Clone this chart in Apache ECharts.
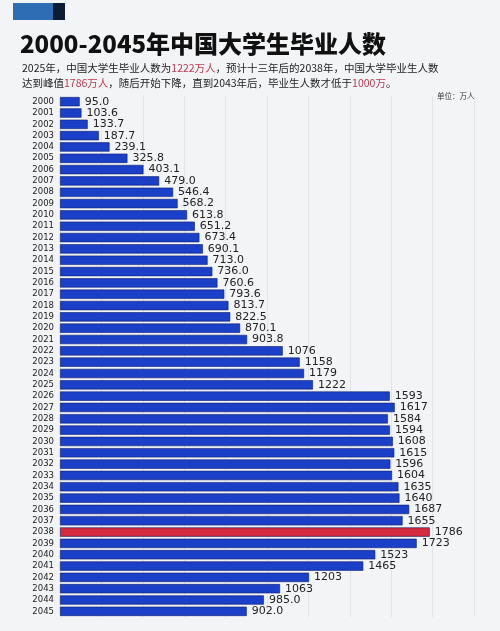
<!DOCTYPE html><html><head><meta charset="utf-8"><script src="https://cdn.jsdelivr.net/npm/echarts@6/dist/echarts.min.js"></script>
<style>body{margin:0;background:#f3f4f6;font-family:"Noto Sans CJK SC",sans-serif}#c{width:500px;height:631px}</style></head><body><div id="c"></div><script>
const years=[];for(let y=2000;y<=2045;y++)years.push(String(y));
const values=[95.0,103.6,133.7,187.7,239.1,325.8,403.1,479.0,546.4,568.2,613.8,651.2,673.4,690.1,713.0,736.0,760.6,793.6,813.7,822.5,870.1,903.8,1076,1158,1179,1222,1593,1617,1584,1594,1608,1615,1596,1604,1635,1640,1687,1655,1786,1723,1523,1465,1203,1063,985,902];
const labels=values.map(v=>v<1000?v.toFixed(1):String(v));
const chart=echarts.init(document.getElementById('c'));
chart.setOption({
 backgroundColor:'#f3f4f6',
 graphic:[
  {type:'rect',shape:{x:13,y:3,width:40,height:17},style:{fill:'#2e6db4'}},
  {type:'rect',shape:{x:53,y:3,width:12,height:17},style:{fill:'#0d1b33'}},
  {type:'text',left:20,top:32,style:{text:'2000-2045年中国大学生毕业人数',font:'900 24px "Noto Sans CJK SC"',fill:'#111'}},
  {type:'text',left:22,top:61,style:{rich:{n:{fill:'#222',font:'10.5px "Noto Sans CJK SC"'},r:{fill:'#c23a4e',font:'10.5px "Noto Sans CJK SC"'}},text:'{n|2025年，中国大学生毕业人数为}{r|1222万人}{n|，预计十三年后的2038年，中国大学毕业生人数}\n{n|达到峰值}{r|1786万人}{n|，随后开始下降，直到2043年后，毕业生人数才低于}{r|1000万}{n|。}',lineHeight:15}},
  {type:'text',left:437,top:92,style:{text:'单位：万人',font:'7.5px "Noto Sans CJK SC"',fill:'#333'}}
 ],
 grid:{left:60,right:26,top:96,bottom:14},
 xAxis:{type:'value',min:0,max:2000,interval:200,axisLabel:{show:false},splitLine:{lineStyle:{color:'#e2e4e8'}}},
 yAxis:{type:'category',data:years,inverse:true,axisLine:{show:false},axisTick:{show:false},axisLabel:{interval:0,color:'#222',fontSize:8.5,margin:6,fontFamily:'DejaVu Sans'}},
 series:[{type:'bar',data:values.map((v,i)=>({value:v,itemStyle:{color:years[i]==='2038'?'#d42a3e':'#1c3fc8'}})),barCategoryGap:'18%',
  itemStyle:{borderColor:'#0c1f6e',borderWidth:0.6},
  label:{show:true,position:'right',distance:5,color:'#222',fontSize:11,fontFamily:'DejaVu Sans',formatter:p=>labels[p.dataIndex]}}]
});
</script></body></html>
